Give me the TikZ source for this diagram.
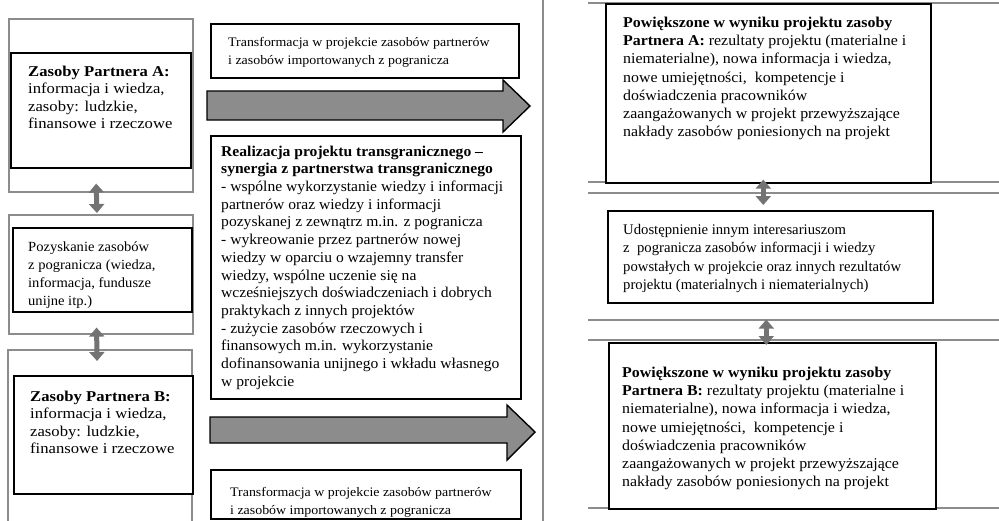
\documentclass[tikz,border=0pt]{standalone}
\usepackage{fontspec}
\setmainfont{Liberation Serif}
\newfontfamily\fntLeft[FakeStretch=1.11]{Liberation Serif}
\newfontfamily\fntPoz[FakeStretch=1.04]{Liberation Serif}
\newfontfamily\fntTr[FakeStretch=1.07]{Liberation Serif}
\newfontfamily\fntMid[FakeStretch=1.04]{Liberation Serif}
\newfontfamily\fntRight[FakeStretch=1.06]{Liberation Serif}
\usetikzlibrary{arrows.meta}
\begin{document}
\begin{tikzpicture}[x=1pt,y=-1pt,
  box/.style={draw=black,line width=1.6pt,inner sep=0pt,anchor=north west,fill=white},
  framebox/.style={draw=black!45,line width=2.4pt,inner sep=0pt,anchor=north west},
  frameline/.style={draw=black!45,line width=2.4pt},
  txt/.style={inner sep=0pt,anchor=north west,align=left},
  leftfont/.style={font=\fntLeft\fontsize{15}{17.2}\selectfont},
  midfont/.style={font=\fntMid\fontsize{15}{17.7}\selectfont},
  smallfont/.style={font=\fntTr\fontsize{13}{17.5}\selectfont},
  rightfont/.style={font=\fntRight\fontsize{15}{18.3}\selectfont},
  dbl/.style={draw=black!55,line width=5pt,{Triangle[width=15pt,length=9pt]}-{Triangle[width=15pt,length=9pt]}},
  bigarrow/.style={fill=black!45,draw=black,line width=1.4pt,line join=miter},
]
\useasboundingbox (0,0) rectangle (999,520);
\fill[white] (0,0) rectangle (999,520);

% frames, left column
\node[framebox,minimum width=184pt,minimum height=173pt] (fA) at (8,18) {};
\node[framebox,minimum width=184pt,minimum height=119pt] (fP) at (8,214) {};
\draw[frameline] (8,522) -- (8,350) -- (192,350) -- (192,522);
% frame lines, right column
\draw[frameline] (588,3) -- (1001,3);
\draw[frameline] (588,182) -- (1001,182);
\draw[frameline] (588,193) -- (1001,193);
\draw[frameline] (588,320) -- (1001,320);
\draw[frameline] (588,340) -- (1001,340);
\draw[frameline] (588,508) -- (1001,508);
% vertical line, middle
\draw[frameline,line width=2pt] (543,-2) -- (543,522);

% left column boxes
\node[box,minimum width=180pt,minimum height=115pt] (zA) at (10,52) {};
\node[txt,leftfont] (zAt) at (28,66) {\textbf{Zasoby Partnera A:}\\informacja i wiedza,\\zasoby: ludzkie,\\finansowe i rzeczowe};
\node[box,minimum width=179pt,minimum height=84pt] (poz) at (12,227) {};
\node[txt,font=\fntPoz\fontsize{14}{18}\selectfont] (pozt) at (28,242) {Pozyskanie zasobów\\z pogranicza (wiedza,\\informacja, fundusze\\unijne itp.)};
\node[box,minimum width=179pt,minimum height=118pt] (zB) at (13,375) {};
\node[txt,leftfont] (zBt) at (30,391) {\textbf{Zasoby Partnera B:}\\informacja i wiedza,\\zasoby: ludzkie,\\finansowe i rzeczowe};

% middle column
\node[box,minimum width=308pt,minimum height=54pt] (tr1) at (210,23) {};
\node[txt,smallfont] (tr1t) at (228,37.5) {Transformacja w projekcie zasobów partnerów\\i zasobów importowanych z pogranicza};
\draw[bigarrow] (207,91) -- (503,91) -- (503,80) -- (530,106) -- (503,132) -- (503,120) -- (207,120) -- cycle;
\node[box,minimum width=310pt,minimum height=263pt] (real) at (210,135) {};
\node[txt,midfont] (realt) at (221,145.5) {\textbf{Realizacja projektu transgranicznego –}\\
\textbf{synergia z partnerstwa transgranicznego}\\
- wspólne wykorzystanie wiedzy i informacji\\
partnerów oraz wiedzy i informacji\\
pozyskanej z zewnątrz m.in. z pogranicza\\
- wykreowanie przez partnerów nowej\\
wiedzy w oparciu o wzajemny transfer\\
wiedzy, wspólne uczenie się na\\
wcześniejszych doświadczeniach i dobrych\\
praktykach z innych projektów\\
- zużycie zasobów rzeczowych i\\
finansowych m.in. wykorzystanie\\
dofinansowania unijnego i wkładu własnego\\
w projekcie};
\draw[bigarrow] (210,417) -- (507,417) -- (507,405) -- (535,432) -- (507,460) -- (507,443) -- (210,443) -- cycle;
\node[box,minimum width=310pt,minimum height=49pt] (tr2) at (210,469) {};
\node[txt,smallfont] (tr2t) at (230,487.5) {Transformacja w projekcie zasobów partnerów\\i zasobów importowanych z pogranicza};

% right column
\node[box,minimum width=325pt,minimum height=179pt] (rA) at (605,3) {};
\node[txt,rightfont] (rAt) at (623,16.5) {\textbf{Powiększone w wyniku projektu zasoby}\\
\textbf{Partnera A:} rezultaty projektu (materialne i\\
niematerialne), nowa informacja i wiedza,\\
nowe umiejętności, \ kompetencje i\\
doświadczenia pracowników\\
zaangażowanych w projekt przewyższające\\
nakłady zasobów poniesionych na projekt};
\node[box,minimum width=325pt,minimum height=92pt] (ud) at (607,210) {};
\node[txt,font=\fontsize{14.7}{18.3}\selectfont] (udt) at (623,224) {Udostępnienie innym interesariuszom\\
z \ pogranicza zasobów informacji i wiedzy\\
powstałych w projekcie oraz innych rezultatów\\
projektu (materialnych i niematerialnych)};
\node[box,minimum width=327pt,minimum height=166pt] (rB) at (608,342) {};
\node[txt,rightfont] (rBt) at (622,366.5) {\textbf{Powiększone w wyniku projektu zasoby}\\
\textbf{Partnera B:} rezultaty projektu (materialne i\\
niematerialne), nowa informacja i wiedza,\\
nowe umiejętności, \ kompetencje i\\
doświadczenia pracowników\\
zaangażowanych w projekt przewyższające\\
nakłady zasobów poniesionych na projekt};

% double arrows
\draw[dbl,shorten <=15pt,shorten >=14pt] ([xshift=-5pt]zA.south) -- ([xshift=-5pt]poz.north);
\draw[dbl,shorten <=15pt,shorten >=14pt] ([xshift=-6pt]poz.south) -- ([xshift=-6pt]zB.north);
\draw[dbl,shorten <=-4pt,shorten >=5pt] ([xshift=-5pt]rA.south) -- ([xshift=-7pt]ud.north);
\draw[dbl,shorten <=16pt,shorten >=-3pt] ([xshift=-4pt]ud.south) -- ([xshift=-6pt]rB.north);
\end{tikzpicture}
\end{document}
